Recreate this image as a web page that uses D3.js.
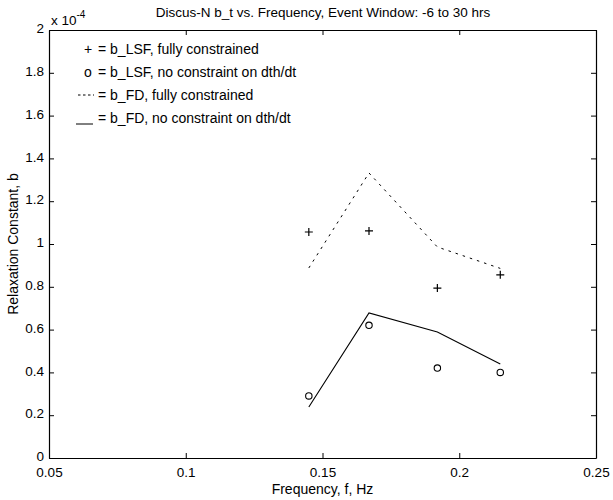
<!DOCTYPE html>
<html><head><meta charset="utf-8">
<script src="https://cdn.jsdelivr.net/npm/d3@7"></script>
<style>
body{margin:0;background:#fff;}
text{font-family:"Liberation Sans",Arial,sans-serif;fill:#000;}
</style></head>
<body>
<svg id="chart" width="613" height="500"></svg>
<script>
const freq = [0.145, 0.167, 0.192, 0.215];
const lsfFull = [1.056, 1.061, 0.794, 0.856];
const lsfFree = [0.29, 0.62, 0.42, 0.40];
const fdFull = [0.888, 1.332, 0.986, 0.886];
const fdFree = [0.238, 0.678, 0.589, 0.439];
const xTicks = [0.05, 0.1, 0.15, 0.2, 0.25];
const yTicks = [0, 0.2, 0.4, 0.6, 0.8, 1, 1.2, 1.4, 1.6, 1.8, 2];
const legendItems = [
  {sym: "+", label: "= b_LSF, fully constrained"},
  {sym: "o", label: "= b_LSF, no constraint on dth/dt"},
  {sym: "---", label: "= b_FD, fully constrained"},
  {sym: "__", label: "= b_FD, no constraint on dth/dt"}
];

const svg = d3.select("#chart");
const L = 49, R = 596, T = 30, B = 458;
const x = d3.scaleLinear().domain([0.05, 0.25]).range([L, R]);
const y = d3.scaleLinear().domain([0, 2]).range([B, T]);
const fs = 14, tfs = 13.5;

// axes
const fmtX = d => String(+d.toFixed(2));
const fmtY = d => String(+d.toFixed(1));
const gx = svg.append("g").attr("transform", `translate(0,${B})`)
  .call(d3.axisBottom(x).tickValues(xTicks).tickSizeInner(-5).tickSizeOuter(0).tickPadding(9).tickFormat(fmtX));
const gxt = svg.append("g").attr("transform", `translate(0,${T})`)
  .call(d3.axisTop(x).tickValues(xTicks).tickSizeInner(-5).tickSizeOuter(0).tickFormat(""));
const gy = svg.append("g").attr("transform", `translate(${L},0)`)
  .call(d3.axisLeft(y).tickValues(yTicks).tickSizeInner(-5).tickSizeOuter(0).tickPadding(5).tickFormat(fmtY));
const gyr = svg.append("g").attr("transform", `translate(${R},0)`)
  .call(d3.axisRight(y).tickValues(yTicks).tickSizeInner(-5).tickSizeOuter(0).tickFormat(""));
[gx, gxt, gy, gyr].forEach(g => {
  g.selectAll("path.domain").attr("stroke", "#000").attr("stroke-width", 1.2);
  g.selectAll(".tick line").attr("stroke", "#000");
  g.selectAll("text").style("font-family", '"Liberation Sans",Arial,sans-serif').style("font-size", tfs + "px").attr("fill", "#000");
});
gy.selectAll(".tick text").attr("dy", "0.2em");

// title & labels
svg.append("text").attr("x", 323).attr("y", 17).attr("text-anchor", "middle")
  .style("font-size", "13.5px").text("Discus-N b_t vs. Frequency, Event Window: -6 to 30 hrs");
const ex = svg.append("text").attr("x", L + 2).attr("y", 25).style("font-size", "13.5px");
ex.append("tspan").text("x 10");
ex.append("tspan").attr("dy", -7).style("font-size", "10px").text("-4");
svg.append("text").attr("x", (L + R) / 2).attr("y", 494).attr("text-anchor", "middle")
  .style("font-size", fs + "px").text("Frequency, f, Hz");
svg.append("text").attr("transform", `translate(18,${(T + B) / 2}) rotate(-90)`).attr("text-anchor", "middle")
  .style("font-size", fs + "px").text("Relaxation Constant, b");

// lines
const line = d3.line().x((d, i) => x(freq[i])).y(d => y(d));
svg.append("path").datum(fdFull).attr("d", line).attr("fill", "none")
  .attr("stroke", "#000").attr("stroke-width", 1).attr("stroke-dasharray", "2.5,5");
svg.append("path").datum(fdFree).attr("d", line).attr("fill", "none")
  .attr("stroke", "#000").attr("stroke-width", 1.1);

// markers
svg.append("g").selectAll("path").data(lsfFull).join("path")
  .attr("d", (d, i) => { const cx = x(freq[i]), cy = y(d), s = 4; return `M${cx - s},${cy}H${cx + s}M${cx},${cy - s}V${cy + s}`; })
  .attr("stroke", "#000").attr("stroke-width", 1.2);
svg.append("g").selectAll("circle").data(lsfFree).join("circle")
  .attr("cx", (d, i) => x(freq[i])).attr("cy", d => y(d)).attr("r", 3.2)
  .attr("fill", "none").attr("stroke", "#000").attr("stroke-width", 1.1);

// legend
const lg = svg.append("g");
legendItems.forEach((it, i) => {
  const yy = 54 + i * 23;
  if (it.sym === "+" || it.sym === "o") {
    lg.append("text").attr("x", 88).attr("y", yy).attr("text-anchor", "middle").style("font-size", fs + "px").text(it.sym);
  } else if (it.sym === "---") {
    lg.append("line").attr("x1", 78).attr("x2", 94).attr("y1", yy - 5).attr("y2", yy - 5)
      .attr("stroke", "#000").attr("stroke-dasharray", "2.5,2.5");
  } else {
    lg.append("line").attr("x1", 76).attr("x2", 93).attr("y1", yy + 1).attr("y2", yy + 1).attr("stroke", "#000");
  }
  lg.append("text").attr("x", 98).attr("y", yy).style("font-size", fs + "px").text(it.label);
});
</script>
</body></html>
